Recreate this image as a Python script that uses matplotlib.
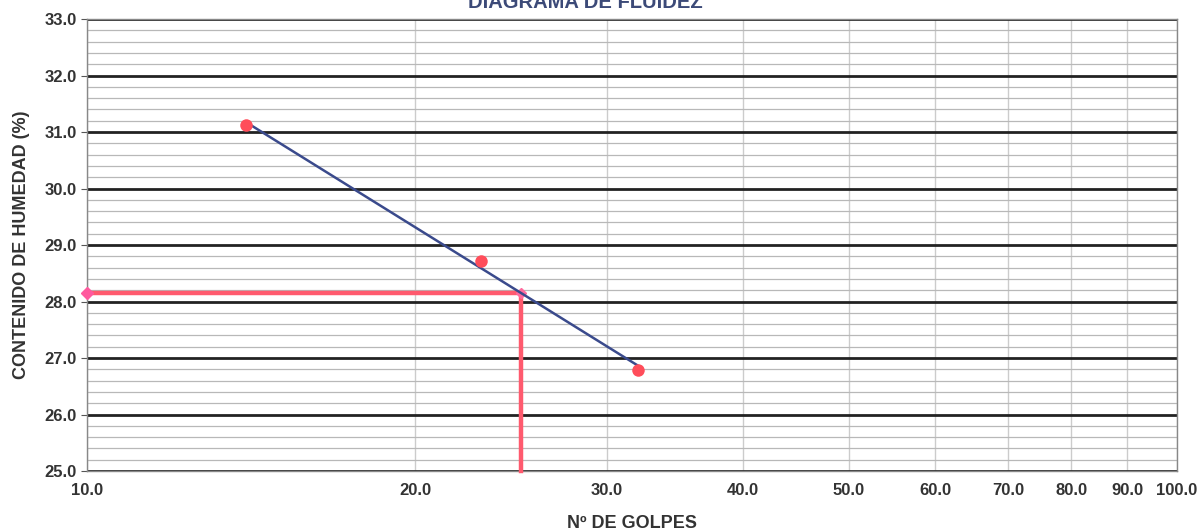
import numpy as np
import matplotlib.pyplot as plt
from matplotlib.ticker import FixedLocator, NullFormatter, MultipleLocator

plt.rcParams['font.family'] = ['Liberation Sans', 'DejaVu Sans']

## Data
golpes = [14.0, 23.0, 32.0]          # Nº de golpes
humedad = [31.12, 28.72, 26.79]      # contenido de humedad (%)
golpes_ref = 25                      # reference blow count
x_ticks = [10, 20, 30, 40, 50, 60, 70, 80, 90, 100]
x_ticklabels = ['10.0', '20.0', '30.0', '40.0', '50.0', '60.0', '70.0',
                '80.0', '90.0', '100.0']

# fit line (log x vs humidity), as the spreadsheet trendline does
coef = np.polyfit(np.log10(golpes), humedad, 1)
x_fit = np.array([min(golpes), max(golpes)])
y_fit = np.polyval(coef, np.log10(x_fit))
ll = np.polyval(coef, np.log10(golpes_ref))

## Draw
fig = plt.figure(figsize=(11.99, 5.31), dpi=100)
ax = fig.add_axes([0.0726, 0.113, 0.909, 0.851])
ax.set_xscale('log')
ax.set_xlim(10, 100)
ax.set_ylim(25, 33)

# grid
ax.xaxis.set_major_locator(FixedLocator(x_ticks))
ax.xaxis.set_minor_locator(FixedLocator([]))
ax.xaxis.set_minor_formatter(NullFormatter())
ax.set_xticklabels(x_ticklabels)
ax.yaxis.set_major_locator(MultipleLocator(1))
ax.yaxis.set_minor_locator(MultipleLocator(0.2))
ax.grid(True, which='major', axis='x', color='#cccccc', linewidth=1.0)
ax.grid(True, which='minor', axis='y', color='#b8b8b8', linewidth=0.9)
ax.grid(True, which='major', axis='y', color='#222222', linewidth=2.0)
ax.set_axisbelow(True)
for s in ax.spines.values():
    s.set_color('#888888')
    s.set_linewidth(1.0)

ax.tick_params(axis='x', which='both', length=0, pad=9, labelsize=12,
               labelcolor='#333333')
ax.tick_params(axis='y', which='major', length=4, color='#555555',
               labelsize=12, labelcolor='#333333')
ax.tick_params(axis='y', which='minor', length=0)
for lab in ax.get_xticklabels() + ax.get_yticklabels():
    lab.set_fontweight('bold')
ax.yaxis.set_major_formatter(plt.FuncFormatter(lambda v, p: f'{v:.1f}'))

# reference lines at 25 blows
ax.plot([10, golpes_ref, golpes_ref], [ll, ll, 25], color='#ff5a6e',
        linewidth=3.2, solid_joinstyle='miter', zorder=3, clip_on=False)
ax.plot([10], [ll], marker='D', color='#ff5a9e', markersize=6,
        zorder=4, clip_on=False)
ax.plot([golpes_ref], [ll], marker='D', color='#ff6a9e', markersize=5,
        zorder=4)

# trend line and points
ax.plot(x_fit, y_fit, color='#3a4a8c', linewidth=1.8, zorder=5)
ax.plot(golpes, humedad, 'o', color='#ff4d5a', markersize=9, zorder=6,
        markeredgewidth=0)

ax.set_xlabel('Nº DE GOLPES', fontsize=13, fontweight='bold',
              color='#333333', labelpad=12)
ax.set_ylabel('CONTENIDO DE HUMEDAD (%)', fontsize=13, fontweight='bold',
              color='#333333', labelpad=10)
fig.text(0.488, 0.996, 'DIAGRAMA DE FLUIDEZ', ha='center', va='center',
         fontsize=14.5, fontweight='bold', color='#3c4a78')

plt.savefig('out.png', dpi=100)
